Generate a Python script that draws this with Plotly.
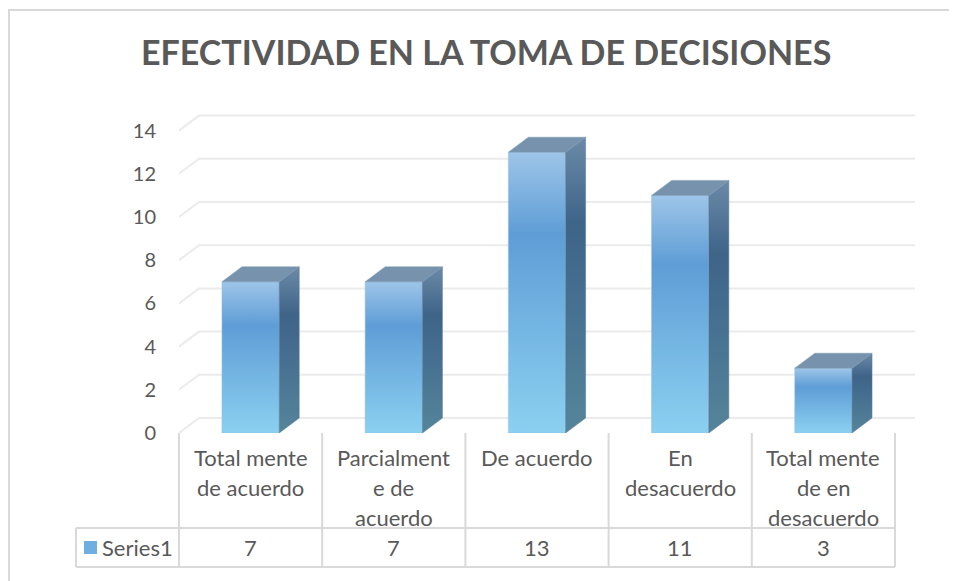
import plotly.graph_objects as go

# ---------------- data ----------------
title_text = "EFECTIVIDAD EN LA TOMA DE DECISIONES"
categories = ["Total mente<br>de acuerdo", "Parcialment<br>e de<br>acuerdo", "De acuerdo",
              "En<br>desacuerdo", "Total mente<br>de en<br>desacuerdo"]
series_name = "Series1"
values = [7, 7, 13, 11, 3]
y_ticks = [0, 2, 4, 6, 8, 10, 12, 14]

# ---------------- geometry (pixels, in screenshot coordinates) ----------------
W, H = 957, 581
OFF = 8                      # page body margin offset
X_LEFT, X_RIGHT = 179, 915   # plot area in screenshot
Y_TOP, Y_BOT = 100, 433
L = X_LEFT - OFF
R = W - (X_RIGHT - OFF)
T = Y_TOP - OFF
B = H - (Y_BOT - OFF)
plot_w = W - L - R
plot_h = H - T - B
x_front_right_px = 895
px_per_x = (x_front_right_px - X_LEFT) / len(categories)
px_per_y = 21.6
x_range = [-0.5, -0.5 + plot_w / px_per_x]
y_range = [0, plot_h / px_per_y]
DX = 20 / px_per_x      # depth offset in data units
DY = 15 / px_per_y
HW = 0.2                # half width of bar front

TXT = "#595959"
GRID = "#ebebeb"
LINE = "#d9d9d9"
FONT = "Lato"

def px(xp):
    return (xp - X_LEFT) / plot_w

def py(yp):
    return (Y_BOT - yp) / plot_h

front_scale = [[0, "#8bd0f0"], [0.45, "#6fb0e0"], [0.71, "#5e9dd6"], [1, "#9ec5e8"]]
side_scale = [[0, "#55859a"], [0.45, "#466f90"], [0.71, "#3e6488"], [1, "#6c8aa8"]]
top_color = "#7692ad"

fig = go.Figure()

# gridlines (back wall + left diagonal)
for v in y_ticks:
    fig.add_trace(go.Scatter(
        x=[-0.5, -0.5 + DX, x_range[1]], y=[v, v + DY, v + DY],
        mode="lines", line=dict(color=GRID, width=2), hoverinfo="skip", showlegend=False))

# bars
for i, v in enumerate(values):
    c = i
    fig.add_trace(go.Scatter(
        x=[c - HW, c + HW, c + HW, c - HW, c - HW], y=[0, 0, v, v, 0],
        mode="lines", fill="toself", line=dict(width=0.5, color="#8fbfe6"),
        fillgradient=dict(type="vertical", colorscale=front_scale, start=0, stop=v),
        hoverinfo="skip", showlegend=False))
    fig.add_trace(go.Scatter(
        x=[c + HW, c + HW + DX, c + HW + DX, c + HW, c + HW], y=[0, DY, v + DY, v, 0],
        mode="lines", fill="toself", line=dict(width=0.5, color="#5a7f9c"),
        fillgradient=dict(type="vertical", colorscale=side_scale, start=0, stop=v + DY),
        hoverinfo="skip", showlegend=False))
    fig.add_trace(go.Scatter(
        x=[c - HW, c + HW, c + HW + DX, c - HW + DX, c - HW], y=[v, v, v + DY, v + DY, v],
        mode="lines", fill="toself", line=dict(width=0.5, color="#7f9ab3"),
        fillcolor=top_color, hoverinfo="skip", showlegend=False))

shapes = []
annotations = []

# outer chart border
shapes.append(dict(type="rect", xref="paper", yref="paper", x0=px(9), x1=px(1000),
                   y0=py(10), y1=py(620), line=dict(color=LINE, width=2)))

# data table lines
tbl_top, row_top, row_bot = 433, 528, 567
tbl_left = 76
col_edges = [X_LEFT + k * px_per_x for k in range(len(categories) + 1)]
for xe in col_edges:
    shapes.append(dict(type="line", xref="paper", yref="paper", x0=px(xe), x1=px(xe),
                       y0=py(tbl_top), y1=py(row_bot), line=dict(color=LINE, width=2)))
shapes.append(dict(type="line", xref="paper", yref="paper", x0=px(tbl_left), x1=px(tbl_left),
                   y0=py(row_top), y1=py(row_bot), line=dict(color=LINE, width=2)))
for yl in (row_top, row_bot):
    shapes.append(dict(type="line", xref="paper", yref="paper", x0=px(tbl_left), x1=px(col_edges[-1]),
                       y0=py(yl), y1=py(yl), line=dict(color=LINE, width=2)))

# legend key
shapes.append(dict(type="rect", xref="paper", yref="paper", x0=px(84), x1=px(97),
                   y0=py(554), y1=py(541), fillcolor="#6eaee0", line=dict(width=0)))

# category labels (one annotation per line) and values
for i, cat in enumerate(categories):
    cx = X_LEFT + (i + 0.5) * px_per_x
    for j, part in enumerate(cat.split("<br>")):
        annotations.append(dict(text=part, xref="paper", yref="paper", x=px(cx), y=py(457 + 30 * j),
                                xanchor="center", yanchor="middle", showarrow=False,
                                font=dict(family=FONT, size=22, color=TXT)))
    annotations.append(dict(text=str(values[i]), xref="paper", yref="paper", x=px(cx), y=py(547),
                            xanchor="center", yanchor="middle", showarrow=False,
                            font=dict(family=FONT, size=22, color=TXT)))

annotations.append(dict(text=series_name, xref="paper", yref="paper", x=px(100), y=py(547),
                        xanchor="left", yanchor="middle", showarrow=False,
                        font=dict(family=FONT, size=22, color=TXT)))

# title
annotations.append(dict(text="<b>" + title_text + "</b>", xref="paper", yref="paper",
                        x=px(486), y=py(52), xanchor="center", yanchor="middle", showarrow=False,
                        font=dict(family=FONT, size=34, color=TXT)))

fig.update_layout(
    width=W, height=H,
    margin=dict(l=L, r=R, t=T, b=B, autoexpand=False),
    paper_bgcolor="white", plot_bgcolor="white",
    showlegend=False,
    shapes=shapes, annotations=annotations,
    xaxis=dict(range=x_range, showgrid=False, zeroline=False, showticklabels=False,
               showline=False, ticks="", fixedrange=True),
    yaxis=dict(range=y_range, tickvals=y_ticks, showgrid=False, zeroline=False,
               showline=False, ticks="", ticklabelstandoff=22,
               tickfont=dict(family=FONT, size=20, color=TXT), fixedrange=True),
)

fig.write_html("out.html")
